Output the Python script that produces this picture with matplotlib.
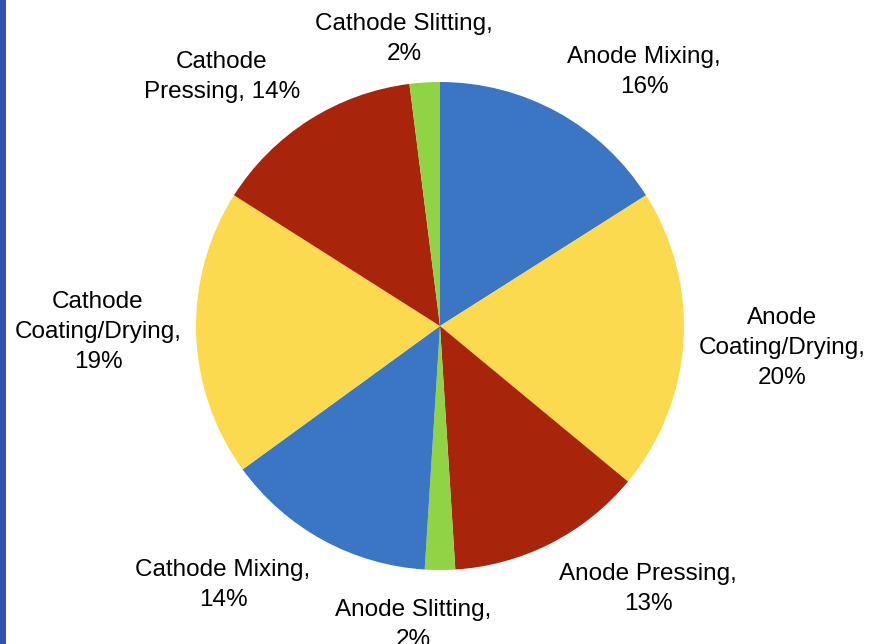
import matplotlib
matplotlib.use("Agg")
import matplotlib.pyplot as plt
from matplotlib.patches import Rectangle

# process steps, clockwise from 12 o'clock
steps = ["Anode Mixing", "Anode Coating/Drying", "Anode Pressing", "Anode Slitting",
         "Cathode Mixing", "Cathode Coating/Drying", "Cathode Pressing", "Cathode Slitting"]
shares = [16, 20, 13, 2, 14, 19, 14, 2]
label_text = ["Anode Mixing,\n16%", "Anode\nCoating/Drying,\n20%", "Anode Pressing,\n13%",
              "Anode Slitting,\n2%", "Cathode Mixing,\n14%", "Cathode\nCoating/Drying,\n19%",
              "Cathode\nPressing, 14%", "Cathode Slitting,\n2%"]
colors = ["#3A76C4", "#FCDA4F", "#A8240A", "#90D445",
          "#3A76C4", "#FCDA4F", "#A8240A", "#90D445"]
# label centres in pixels (x, y from top)
label_pos = [(644, 72), (782, 348), (648, 589), (413, 625),
             (223, 585), (98, 332), (222, 77), (404, 39)]

plt.rcParams['font.family'] = ['Liberation Sans', 'DejaVu Sans']

fig = plt.figure(figsize=(8.69, 6.44), dpi=100)
ax = fig.add_axes([0, 0, 1, 1])

ax.pie(shares, colors=colors, startangle=90, counterclock=False,
       center=(440, 644 - 326), radius=244, frame=True,
       wedgeprops=dict(linewidth=0))
ax.set_xlim(0, 869)
ax.set_ylim(0, 644)
ax.set_aspect('equal')
ax.axis('off')

for txt, (x, y) in zip(label_text, label_pos):
    ax.text(x, 644 - y, txt, ha='center', va='center', fontsize=17.5,
            linespacing=1.45, color='black')

# blue bar on the left edge
fig.patches.append(Rectangle((0, 0), 6 / 869, 1, transform=fig.transFigure,
                             facecolor='#3355B0', edgecolor='none'))

fig.savefig("out.png", dpi=100)
